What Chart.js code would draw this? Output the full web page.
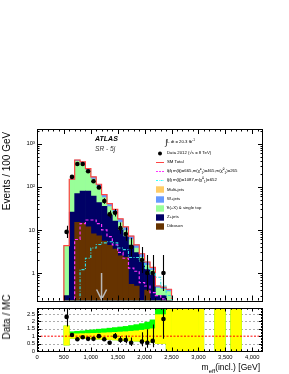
<!DOCTYPE html>
<html>
<head>
<meta charset="utf-8">
<title>SR - 5j meff</title>
<script src="https://cdn.jsdelivr.net/npm/chart.js@4.4.1/dist/chart.umd.min.js"></script>
<style>
html, body { margin:0; padding:0; background:#fff; }
#page { position:relative; width:289px; height:374px; overflow:hidden; font-family:"Liberation Sans", Arial, sans-serif; color:#000; }
canvas { position:absolute; left:0; }
#main { top:0; }
#ratio { top:300px; }
.t { position:absolute; white-space:nowrap; line-height:1; }
.rot { transform:translate(-50%,-50%) rotate(-90deg); }
.leg { position:absolute; left:156px; height:8px; display:flex; align-items:center; white-space:nowrap; font-size:4.3px; line-height:1; }
.leg svg { width:8px; height:7px; margin-right:3px; flex:none; }
.leg sup, .leg sub, .t sup, .t sub { font-size:70%; line-height:0; }
</style>
</head>
<body>
<div id="page">
  <canvas id="main" width="289" height="306"></canvas>
  <canvas id="ratio" width="289" height="74"></canvas>

  <div class="t" style="left:95px; top:134.5px; font-size:7px; font-weight:bold; font-style:italic;">ATLAS</div>
  <div class="t" style="left:95px; top:145.8px; font-size:6.6px; font-style:italic; color:#333;">SR - 5j</div>

  <div class="t" style="left:165px; top:138.5px; font-size:4.3px;"><span style="font-size:8px; vertical-align:-2px;">&int;</span>L dt = 20.3 fb<sup>-1</sup></div>

  <div class="leg" style="top:149px"><svg viewBox="0 0 8 7"><circle cx="4" cy="3.5" r="2" fill="#000"/></svg><span>Data 2012 (&radic;s = 8 TeV)</span></div>
  <div class="leg" style="top:158.2px"><svg viewBox="0 0 8 7"><line x1="0" y1="3.5" x2="8" y2="3.5" stroke="#ff4444" stroke-width="1"/></svg><span>SM Total</span></div>
  <div class="leg" style="top:167.4px"><svg viewBox="0 0 8 7"><line x1="0" y1="3.5" x2="8" y2="3.5" stroke="#ff33ff" stroke-width="1" stroke-dasharray="2 1"/></svg><span>q&#771;q&#771; m(q&#771;)=665,m(&chi;&#771;<sup>&plusmn;</sup><sub>1</sub>)=465,m(&chi;&#771;<sup>0</sup><sub>1</sub>)=265</span></div>
  <div class="leg" style="top:176.6px"><svg viewBox="0 0 8 7"><line x1="0" y1="3.5" x2="8" y2="3.5" stroke="#33ffff" stroke-width="1" stroke-dasharray="2 1 0.6 1"/></svg><span>g&#771;g&#771; m(g&#771;)=1087,m(&chi;&#771;<sup>0</sup><sub>1</sub>)=652</span></div>
  <div class="leg" style="top:185.8px"><svg viewBox="0 0 8 7"><rect x="0" y="0.3" width="8" height="6.4" fill="#ffcc66"/></svg><span>Multi-jets</span></div>
  <div class="leg" style="top:195px"><svg viewBox="0 0 8 7"><rect x="0" y="0.3" width="8" height="6.4" fill="#6699ff"/></svg><span>W+jets</span></div>
  <div class="leg" style="top:204.2px"><svg viewBox="0 0 8 7"><rect x="0" y="0.3" width="8" height="6.4" fill="#99ff99"/></svg><span>t&#773;t(+X) &amp; single top</span></div>
  <div class="leg" style="top:213.4px"><svg viewBox="0 0 8 7"><rect x="0" y="0.3" width="8" height="6.4" fill="#000066"/></svg><span>Z+jets</span></div>
  <div class="leg" style="top:222.6px"><svg viewBox="0 0 8 7"><rect x="0" y="0.3" width="8" height="6.4" fill="#663300"/></svg><span>Diboson</span></div>

  <div class="t rot" style="left:7px; top:171px; font-size:10px;">Events / 100 GeV</div>
  <div class="t rot" style="left:7px; top:317px; font-size:10px;">Data / MC</div>
  <div class="t" style="right:29px; top:362.5px; font-size:8.5px;">m<sub>eff</sub>(incl.) [GeV]</div>
</div>

<script>
// 100 GeV bins, given by their centres
var BIN_CENTRES = [550, 650, 750, 850, 950, 1050, 1150, 1250, 1350, 1450, 1550, 1650, 1750, 1850, 1950, 2050, 2150, 2250, 2350, 2450];
var BIN_WIDTH   = 100;

// backgrounds, events per bin
var DIBOSON  = [0, 0, 15, 14.5, 11.8, 8.1, 7.3, 5.5, 4.4, 3.6, 2.5, 2.3, 0.55, 0.5, 0, 0.4, 0, 0, 0, 0];
var ZJETS    = [0.3, 26, 55, 65, 68, 53, 36, 30, 17.6, 12.4, 7.5, 4.7, 3.9, 2.5, 1.8, 0.8, 0.9, 0.3, 0.3, 0];
var TTBAR    = [3.9, 117, 323, 273, 162, 90, 56, 21, 12.8, 8.8, 4.9, 2.7, 1.55, 0.8, 0.5, 0.3, 0.25, 0.15, 0.12, 0.37];
var WJETS    = [0.1, 6, 25, 25, 22, 18, 15, 9, 6, 5, 3, 2, 1.2, 0.7, 0.5, 0.3, 0.2, 0.05, 0.05, 0.05];
var MULTIJET = [0, 1, 2, 2, 1, 1, 0.5, 0.3, 0.2, 0.2, 0.1, 0.1, 0, 0, 0, 0, 0, 0, 0, 0];

var DATA_COUNTS = [9, 170, 340, 340, 230, 135, 97, 47, 23, 25, 11, 8, 4, 0, 2, 1, 1, 0, 1, 0];

// signal benchmarks
var SIG_SQUARK = [0, 0, 6, 14, 17, 17, 14, 10, 7, 4.5, 3, 2.2, 1.3, 1.1, 0.6, 0.5, 0.35, 0.3, 0.25, 0.2];
var SIG_GLUINO = [0, 0, 0, 1.2, 2.2, 3.8, 4.6, 5.0, 5.3, 5.0, 3.8, 3.5, 2.3, 2.3, 1.9, 1.3, 1.0, 0.8, 0.5, 0.3];

// lower panel
var RATIO = [2.3, 1.08, 0.79, 0.93, 0.82, 0.82, 1.0, 0.79, 0.56, 1.0, 0.74, 0.74, 0.56, null, 0.63, 0.56, 0.68, null, 2.16, null];

var BAND_CENTRES   = [550, 650, 750, 850, 950, 1050, 1150, 1250, 1350, 1450, 1550, 1650, 1750, 1850, 1950, 2050, 2150, 2250, 2350, 2450, 2550, 2650, 2750, 2850, 2950, 3050, 3350, 3450, 3650, 3750];
var BAND_YELLOW_LO = [0.4, 0.86, 0.85, 0.84, 0.83, 0.82, 0.8, 0.78, 0.77, 0.75, 0.73, 0.71, 0.69, 0.67, 0.65, 0.63, 0.6, 0.5, 0.5, 0, 0, 0, 0, 0, 0, 0, 0, 0, 0, 0];
var BAND_YELLOW_HI = [1.69, 1.15, 1.16, 1.17, 1.18, 1.19, 1.2, 1.22, 1.24, 1.26, 1.28, 1.3, 1.33, 1.36, 1.4, 1.45, 1.5, 2.45, 2.45, 2.9, 2.9, 2.9, 2.9, 2.9, 2.9, 2.9, 2.9, 2.9, 2.9, 2.9];
var BAND_GREEN_HI  = [1.69, 1.3, 1.33, 1.36, 1.4, 1.43, 1.47, 1.5, 1.54, 1.58, 1.62, 1.66, 1.72, 1.78, 1.85, 1.95, 2.1, 2.9, 2.9, 2.9, 2.9, 2.9, 2.9, 2.9, 2.9, 2.9, 2.9, 2.9, 2.9, 2.9];

// axes
var X_MIN = 0, X_MAX = 4200;
var X_TICKS = [0, 500, 1000, 1500, 2000, 2500, 3000, 3500, 4000];
var Y_MIN = 0.23, Y_MAX = 2200;
var Y_TICKS = [1, 10, 100, 1000];
var Y_TICK_TEXT = {1: "1", 10: "10", 100: "10\u00b2", 1000: "10\u00b3"};
var R_MIN = 0, R_MAX = 2.9;
var R_TICKS = [0, 0.5, 1, 1.5, 2, 2.5];
var R_LINE = 1;

// cut arrow
var ARROW_AT  = 1200;
var ARROW_TOP = 1;

var FLOOR = 0.01;
var FONT  = "'Liberation Sans', Arial, sans-serif";


function cumulate(){
    let out = BIN_CENTRES.map(function(){ return 0; });
    let layers = [];
    for (let a of arguments){
        out = out.map(function(v, i){ return v + a[i]; });
        layers.push(out);
    }
    return layers;
}

var STACK = cumulate(DIBOSON, ZJETS, TTBAR, WJETS, MULTIJET);
var TOTAL = STACK[4];

function bars(values){
    return BIN_CENTRES.map(function(x, i){ return {x: x, y: values[i]}; });
}

// histogram outline: points on the low bin edges, stepped
function step_points(values){
    let pts = [];
    let started = false;
    for (let i=0;i<values.length;i++){
        let lo = BIN_CENTRES[i] - BIN_WIDTH/2;
        if (!values[i] && !started) continue;
        if (!started){ pts.push({x: lo, y: FLOOR}); started = true; }
        pts.push({x: lo, y: values[i] || FLOOR});
    }
    let hi = BIN_CENTRES[BIN_CENTRES.length-1] + BIN_WIDTH/2;
    pts.push({x: hi, y: pts[pts.length-1].y});
    pts.push({x: hi, y: FLOOR});
    return pts;
}

// approximate Poisson interval
function poisson_err(n){
    let s = Math.sqrt(n + 0.25);
    return {up: s + 0.5, dn: s - 0.5};
}

function tick_values(min, max, step){
    let out = [];
    for (let k=Math.ceil(min/step);k*step<=max+1e-9;k++) out.push(k*step);
    return out;
}

function log_minor(min, max){
    let out = [];
    for (let e=-1;e<=3;e++){
        for (let m=1;m<10;m++){
            let v = m * Math.pow(10, e);
            if (v > min && v < max) out.push(v);
        }
    }
    return out;
}

// ROOT style frame with inward ticks
function draw_frame(chart, t){
    let ctx = chart.ctx, a = chart.chartArea;
    let xs = chart.scales.x, ys = chart.scales.y;
    ctx.save();
    ctx.strokeStyle = "#000";
    ctx.lineWidth = 1;
    ctx.beginPath();
    t.x.forEach(function(tk){
        let px = Math.round(xs.getPixelForValue(tk.v)) + 0.5;
        ctx.moveTo(px, a.bottom); ctx.lineTo(px, a.bottom - tk.len);
        ctx.moveTo(px, a.top);    ctx.lineTo(px, a.top + tk.len);
    });
    t.y.forEach(function(tk){
        let py = Math.round(ys.getPixelForValue(tk.v)) + 0.5;
        ctx.moveTo(a.left, py);  ctx.lineTo(a.left + tk.len, py);
        ctx.moveTo(a.right, py); ctx.lineTo(a.right - tk.len, py);
    });
    ctx.stroke();
    ctx.strokeRect(Math.round(a.left) + 0.5, Math.round(a.top) + 0.5, Math.round(a.right - a.left) - 1, Math.round(a.bottom - a.top));
    ctx.restore();
}

function error_bars(chart, centres, values, counts){
    let ctx = chart.ctx, a = chart.chartArea;
    let xs = chart.scales.x, ys = chart.scales.y;
    ctx.save();
    ctx.beginPath();
    ctx.rect(a.left, a.top, a.right - a.left, a.bottom - a.top);
    ctx.clip();
    ctx.strokeStyle = "#000";
    ctx.lineWidth = 1.1;
    ctx.beginPath();
    for (let i=0;i<centres.length;i++){
        let v = values[i], n = counts[i];
        if (!v || !n) continue;
        let e = poisson_err(n);
        let lo = v * (1 - e.dn / n), hi = v * (1 + e.up / n);
        let px = Math.round(xs.getPixelForValue(centres[i])) + 0.5;
        let pLo = lo > ys.min ? ys.getPixelForValue(lo) : a.bottom;
        ctx.moveTo(px, pLo);
        ctx.lineTo(px, ys.getPixelForValue(hi));
    }
    ctx.stroke();
    ctx.restore();
}

var x_ticks_inward = tick_values(X_MIN + 100, X_MAX - 1, 100).map(function(v){
    return {v: v, len: (v % 500 === 0) ? 5 : 2.5};
});

var main_plugin = {
    id: "main_deco",
    afterDatasetsDraw: function(chart){
        error_bars(chart, BIN_CENTRES, DATA_COUNTS, DATA_COUNTS);

        // cut arrow
        let ctx = chart.ctx, a = chart.chartArea;
        let px = chart.scales.x.getPixelForValue(ARROW_AT);
        let top = chart.scales.y.getPixelForValue(ARROW_TOP);
        ctx.save();
        ctx.strokeStyle = "#b8b8b8";
        ctx.lineWidth = 1.5;
        ctx.beginPath();
        ctx.moveTo(px, top); ctx.lineTo(px, a.bottom - 1);
        ctx.moveTo(px - 5, a.bottom - 11); ctx.lineTo(px, a.bottom - 1); ctx.lineTo(px + 5, a.bottom - 11);
        ctx.stroke();
        ctx.restore();
    },
    afterDraw: function(chart){
        let yt = Y_TICKS.map(function(v){ return {v: v, len: 5}; });
        log_minor(Y_MIN, Y_MAX).forEach(function(v){
            if (Y_TICKS.indexOf(v) < 0) yt.push({v: v, len: 2.5});
        });
        draw_frame(chart, {x: x_ticks_inward, y: yt});
    }
};

var ratio_plugin = {
    id: "ratio_deco",
    beforeDatasetsDraw: function(chart){
        let ctx = chart.ctx, a = chart.chartArea, ys = chart.scales.y;
        ctx.save();
        ctx.strokeStyle = "#888";
        ctx.lineWidth = 0.7;
        ctx.setLineDash([2, 2]);
        ctx.beginPath();
        R_TICKS.forEach(function(v){
            if (v <= R_MIN || v === R_LINE) return;
            let py = Math.round(ys.getPixelForValue(v)) + 0.5;
            ctx.moveTo(a.left, py); ctx.lineTo(a.right, py);
        });
        ctx.stroke();
        ctx.restore();
    },
    afterDatasetsDraw: function(chart){
        error_bars(chart, BIN_CENTRES, RATIO, DATA_COUNTS);
    },
    afterDraw: function(chart){
        let yt = tick_values(R_MIN + 0.1, R_MAX, 0.1).map(function(v){
            let major = Math.abs(v / 0.5 - Math.round(v / 0.5)) < 1e-6;
            return {v: v, len: major ? 4 : 2};
        });
        let xt = x_ticks_inward.map(function(t){ return {v: t.v, len: t.len * 0.7}; });
        draw_frame(chart, {x: xt, y: yt});
    }
};

var tick_font = {family: FONT, size: 5.8};

var bar_common = {
    type: "bar",
    grouped: false,
    barPercentage: 1,
    categoryPercentage: 1,
    borderWidth: 0
};

var main_chart = new Chart(document.getElementById("main"), {
    type: "bar",
    data: {
        datasets: [
            Object.assign({label: "Multi-jets", data: bars(STACK[4]), backgroundColor: "#ffcc66", order: 10}, bar_common),
            Object.assign({label: "W+jets", data: bars(STACK[3]), backgroundColor: "#6699ff", order: 9}, bar_common),
            Object.assign({label: "ttbar", data: bars(STACK[2]), backgroundColor: "#99ff99", order: 8}, bar_common),
            Object.assign({label: "Z+jets", data: bars(STACK[1]), backgroundColor: "#000066", order: 7}, bar_common),
            Object.assign({label: "Diboson", data: bars(STACK[0]), backgroundColor: "#663300", order: 6}, bar_common),
            {
                type: "line", label: "SM Total", data: step_points(TOTAL), stepped: true,
                borderColor: "#ff4444", borderWidth: 1.2, pointRadius: 0, fill: false, order: 5
            },
            {
                type: "line", label: "squark", data: step_points(SIG_SQUARK), stepped: true,
                borderColor: "#ff33ff", borderWidth: 1.2, borderDash: [3, 2], pointRadius: 0, fill: false, order: 4
            },
            {
                type: "line", label: "gluino", data: step_points(SIG_GLUINO), stepped: true,
                borderColor: "#33dddd", borderWidth: 1.1, borderDash: [3, 1.5, 1, 1.5], pointRadius: 0, fill: false, order: 3
            },
            {
                type: "line", label: "Data", showLine: false, order: 1,
                data: BIN_CENTRES.map(function(x, i){ return {x: x, y: DATA_COUNTS[i]}; }).filter(function(p){ return p.y > 0; }),
                pointRadius: 2.3, pointBackgroundColor: "#000", pointBorderColor: "#000", pointBorderWidth: 0
            }
        ]
    },
    options: {
        responsive: false,
        animation: false,
        events: [],
        layout: {padding: {left: 0, right: 26, top: 129, bottom: 1}},
        plugins: {legend: {display: false}, tooltip: {enabled: false}},
        scales: {
            x: {type: "linear", min: X_MIN, max: X_MAX, offset: false, display: false},
            y: {
                type: "logarithmic", min: Y_MIN, max: Y_MAX,
                afterFit: function(s){ s.width = 37; },
                afterBuildTicks: function(s){ s.ticks = Y_TICKS.map(function(v){ return {value: v}; }); },
                ticks: {
                    font: tick_font, color: "#000", padding: 2, autoSkip: false,
                    callback: function(v){ return Y_TICK_TEXT[v] || ""; }
                },
                grid: {display: false, drawTicks: false},
                border: {display: false}
            }
        }
    },
    plugins: [main_plugin]
});

var ratio_chart = new Chart(document.getElementById("ratio"), {
    type: "bar",
    data: {
        datasets: [
            Object.assign({
                label: "syst", order: 6, backgroundColor: "#00ff00",
                data: BAND_CENTRES.map(function(x, i){ return {x: x, y: [BAND_YELLOW_LO[i], BAND_GREEN_HI[i]]}; })
            }, bar_common),
            Object.assign({
                label: "stat", order: 5, backgroundColor: "#ffff00",
                data: BAND_CENTRES.map(function(x, i){ return {x: x, y: [BAND_YELLOW_LO[i], BAND_YELLOW_HI[i]]}; })
            }, bar_common),
            {
                type: "line", label: "one", order: 2,
                data: [{x: X_MIN, y: R_LINE}, {x: X_MAX, y: R_LINE}],
                borderColor: "#ff0000", borderWidth: 1, borderDash: [2, 1.5], pointRadius: 0, fill: false
            },
            {
                type: "line", label: "Data/MC", showLine: false, order: 1,
                data: BIN_CENTRES.map(function(x, i){ return {x: x, y: RATIO[i]}; }).filter(function(p){ return p.y !== null; }),
                pointRadius: 2.3, pointBackgroundColor: "#000", pointBorderColor: "#000", pointBorderWidth: 0
            }
        ]
    },
    options: {
        responsive: false,
        animation: false,
        events: [],
        layout: {padding: {left: 0, right: 26, top: 8, bottom: 0}},
        plugins: {legend: {display: false}, tooltip: {enabled: false}},
        scales: {
            x: {
                type: "linear", min: X_MIN, max: X_MAX, offset: false,
                afterFit: function(s){ s.height = 23; },
                afterBuildTicks: function(s){ s.ticks = X_TICKS.map(function(v){ return {value: v}; }); },
                ticks: {font: tick_font, color: "#000", padding: 3, maxRotation: 0, autoSkip: false},
                grid: {display: false, drawTicks: false},
                border: {display: false}
            },
            y: {
                min: R_MIN, max: R_MAX,
                afterFit: function(s){ s.width = 37; },
                afterBuildTicks: function(s){ s.ticks = R_TICKS.map(function(v){ return {value: v}; }); },
                ticks: {font: tick_font, color: "#000", padding: 2, autoSkip: false,
                        callback: function(v){ return String(v); }},
                grid: {display: false, drawTicks: false},
                border: {display: false}
            }
        }
    },
    plugins: [ratio_plugin]
});
</script>
</body>
</html>
